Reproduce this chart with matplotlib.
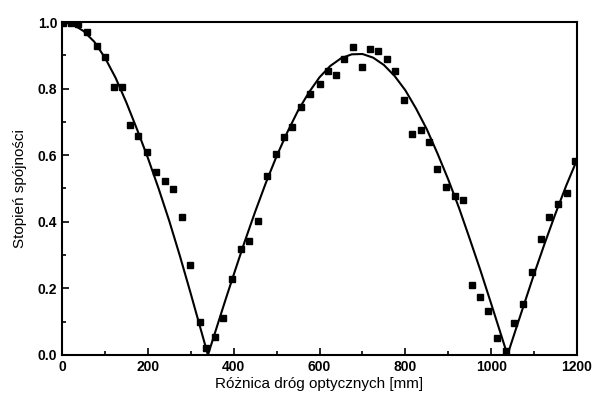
import matplotlib
matplotlib.use('Agg')
from matplotlib import pyplot as plt
from matplotlib.ticker import MultipleLocator

# measured points
pts_x = [3, 20, 38, 59, 81, 100, 120, 139, 158, 178, 197, 219, 240, 259, 279, 298,
         321, 336, 356, 376, 397, 416, 436, 457, 478, 499, 517, 537, 557, 579, 600,
         619, 638, 658, 679, 698, 718, 737, 757, 776, 797, 816, 836, 856, 874, 895,
         916, 935, 955, 973, 993, 1014, 1034, 1053, 1075, 1094, 1115, 1135, 1156,
         1176, 1195]
pts_y = [0.998, 0.998, 0.994, 0.97, 0.928, 0.894, 0.806, 0.804, 0.692, 0.658, 0.611,
         0.551, 0.522, 0.498, 0.415, 0.27, 0.10, 0.02, 0.055, 0.11, 0.227, 0.318,
         0.343, 0.403, 0.537, 0.604, 0.654, 0.686, 0.744, 0.783, 0.814, 0.852, 0.842,
         0.888, 0.925, 0.866, 0.92, 0.914, 0.888, 0.854, 0.766, 0.664, 0.676, 0.641,
         0.558, 0.505, 0.477, 0.465, 0.21, 0.173, 0.132, 0.05, 0.012, 0.097, 0.152,
         0.25, 0.347, 0.413, 0.453, 0.486, 0.583]

# fitted curve
fit_x = [0, 25, 50, 75, 100, 125, 150, 175, 200, 225, 250, 275, 300, 320, 340,
         360, 380, 400, 425, 450, 475, 500, 525, 550, 575, 600, 625, 650, 675, 700,
         725, 750, 775, 800, 825, 850, 875, 900, 925, 950, 975, 1000, 1020, 1038,
         1060, 1080, 1100, 1125, 1150, 1175, 1200]
fit_y = [1.0, 0.993, 0.973, 0.941, 0.893, 0.832, 0.758, 0.677, 0.592, 0.500, 0.402,
         0.296, 0.184, 0.092, 0.0,
         0.081, 0.162, 0.241, 0.338, 0.430, 0.517, 0.597, 0.669, 0.734, 0.788, 0.834,
         0.868, 0.891, 0.903, 0.904, 0.893, 0.871, 0.838, 0.795, 0.740, 0.678, 0.605,
         0.527, 0.442, 0.349, 0.254, 0.154, 0.073, 0.0,
         0.087, 0.165, 0.243, 0.336, 0.425, 0.509, 0.586]

plt.rcParams['font.family'] = ['Liberation Sans', 'DejaVu Sans']

fig = plt.figure(figsize=(5.93, 4.08), dpi=100)
ax = fig.add_axes([0.1046, 0.130, 0.8684, 0.816])

ax.plot(fit_x, fit_y, c='black', lw=1.5)
ax.plot(pts_x, pts_y, ls='none', marker='s', ms=5, c='black')

ax.set_xlim(0, 1200)
ax.set_ylim(0, 1.0)
ax.xaxis.set_major_locator(MultipleLocator(200))
ax.xaxis.set_minor_locator(MultipleLocator(100))
ax.yaxis.set_major_locator(MultipleLocator(0.2))
ax.yaxis.set_minor_locator(MultipleLocator(0.1))
ax.set_yticklabels(['%.1f' % v for v in ax.get_yticks()])
ax.tick_params(which='both', direction='in', top=False, right=False, width=1.2)
ax.tick_params(which='major', length=5, labelsize=10)
ax.tick_params(which='minor', length=3)
for lab in ax.get_xticklabels() + ax.get_yticklabels():
    lab.set_fontweight('bold')
for sp in ax.spines.values():
    sp.set_linewidth(1.5)

ax.set_xlabel("Różnica dróg optycznych [mm]", fontsize=11, labelpad=2)
ax.set_ylabel("Stopień spójności", fontsize=11, labelpad=8)

fig.savefig('out.png', dpi=100)
